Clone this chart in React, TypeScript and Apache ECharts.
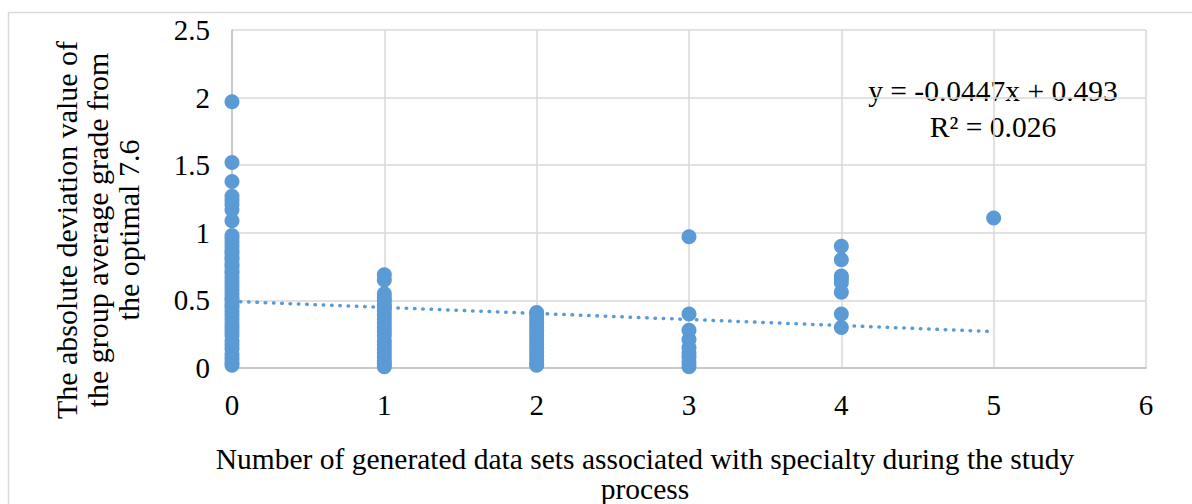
import React, { useEffect, useRef } from "react";
import * as echarts from "echarts";

const xTicks = [0, 1, 2, 3, 4, 5, 6];
const yTicks = [0, 0.5, 1, 1.5, 2, 2.5];

const group0 = [1.97, 1.52, 1.38, 1.27, 1.24, 1.21, 1.17, 1.09, 0.98, 0.96, 0.93, 0.9, 0.87, 0.85, 0.82, 0.8, 0.77, 0.75, 0.72, 0.7, 0.67, 0.64, 0.61, 0.58, 0.55, 0.52, 0.5, 0.47, 0.45, 0.42, 0.39, 0.36, 0.33, 0.3, 0.27, 0.24, 0.2, 0.17, 0.14, 0.1, 0.07, 0.04, 0.02];
const group1 = [0.69, 0.65, 0.55, 0.52, 0.5, 0.47, 0.45, 0.42, 0.39, 0.36, 0.33, 0.3, 0.27, 0.24, 0.2, 0.17, 0.14, 0.11, 0.08, 0.05, 0.03, 0.01];
const group2 = [0.41, 0.39, 0.36, 0.33, 0.3, 0.27, 0.24, 0.21, 0.18, 0.15, 0.12, 0.09, 0.06, 0.03, 0.02];
const group3 = [0.97, 0.4, 0.28, 0.21, 0.15, 0.11, 0.08, 0.04, 0.01];
const group4 = [0.9, 0.8, 0.68, 0.66, 0.63, 0.56, 0.4, 0.3];
const group5 = [1.11];

const trendX = [0, 5];
const trendY = [0.493, 0.2695];

const equationText = "y = -0.0447x + 0.493";
const r2Text = "R² = 0.026";
const xTitle = "Number of generated data sets associated with specialty during the study\nprocess";
const yTitle = "The absolute deviation value of\nthe group average grade from\nthe optimal 7.6";

const FONT = "'Liberation Serif', 'Times New Roman', serif";
const BLUE = "#5b9bd5";

export default function App() {
  const ref = useRef<HTMLDivElement>(null);
  useEffect(() => {
    if (!ref.current) return;
    const chart = echarts.init(ref.current, null, { renderer: "svg" });
    const groups = [group0, group1, group2, group3, group4, group5];
    const points: number[][] = [];
    groups.forEach((g, i) => g.forEach((v) => points.push([xTicks[i], v])));
    chart.setOption({
      animation: false,
      grid: { left: 232, right: 46, top: 30, bottom: 136 },
      xAxis: {
        type: "value",
        min: 0,
        max: 6,
        interval: 1,
        axisLine: { show: true, onZero: false, lineStyle: { color: "#bfbfbf", width: 1.5 } },
        axisTick: { show: false },
        splitLine: { show: true, lineStyle: { color: "#d9d9d9", width: 1.5 } },
        axisLabel: { color: "#000", fontFamily: FONT, fontSize: 29, margin: 22 },
      },
      yAxis: {
        type: "value",
        min: 0,
        max: 2.5,
        interval: 0.5,
        axisLine: { show: true, lineStyle: { color: "#bfbfbf", width: 1.5 } },
        axisTick: { show: false },
        splitLine: { show: true, lineStyle: { color: "#d9d9d9", width: 1.5 } },
        axisLabel: { color: "#000", fontFamily: FONT, fontSize: 29, margin: 22 },
      },
      series: [
        {
          type: "line",
          data: trendX.map((x, i) => [x, trendY[i]]),
          symbol: "none",
          lineStyle: { color: BLUE, width: 3.5, type: [0.5, 7.8], cap: "round" },
          z: 3,
        },
        {
          type: "scatter",
          data: points,
          symbolSize: 15,
          itemStyle: { color: BLUE, opacity: 1 },
          z: 2,
        },
      ],
      graphic: [
        {
          type: "rect",
          shape: { x: 8.5, y: 12.5, width: 1200, height: 520 },
          style: { fill: "none", stroke: "#d9d9d9", lineWidth: 1.5 },
          z: -1,
        },
        {
          type: "text",
          x: 993,
          y: 91,
          style: { text: equationText, font: `29.5px ${FONT}`, fill: "#000", align: "center", verticalAlign: "middle" },
        },
        {
          type: "text",
          x: 993,
          y: 127,
          style: { text: r2Text, font: `29.5px ${FONT}`, fill: "#000", align: "center", verticalAlign: "middle" },
        },
        {
          type: "text",
          x: 645,
          y: 474,
          style: { text: xTitle, font: `29.5px ${FONT}`, lineHeight: 30, fill: "#000", align: "center", verticalAlign: "middle" },
        },
        {
          type: "text",
          x: 97,
          y: 230,
          rotation: Math.PI / 2,
          style: { text: yTitle, font: `30px ${FONT}`, lineHeight: 31, fill: "#000", align: "center", verticalAlign: "middle" },
        },
      ],
    });
    return () => chart.dispose();
  }, []);
  return <div ref={ref} style={{ position: "fixed", left: 0, top: 0, width: 1192, height: 504, background: "#fff" }} />;
}
